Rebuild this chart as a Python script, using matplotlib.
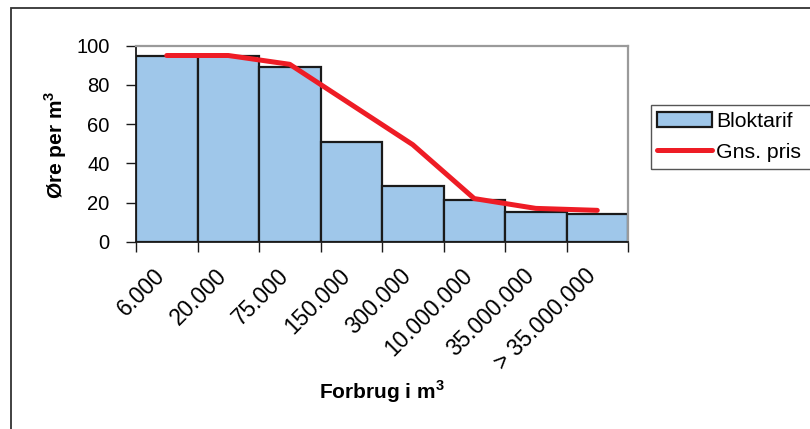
import matplotlib
matplotlib.use('Agg')
import matplotlib.pyplot as plt
import matplotlib.transforms as mtransforms
from matplotlib.patches import Rectangle

# values
categories = ['6.000', '20.000', '75.000', '150.000', '300.000',
              '10.000.000', '35.000.000', '> 35.000.000']
bloktarif = [95, 95, 89, 51, 28.4, 21.3, 15, 14]
gns_pris = [95, 95, 90.5, 70, 49.5, 22, 17, 16]

plt.rcParams['font.family'] = ['Liberation Sans', 'DejaVu Sans']
plt.rcParams['mathtext.fontset'] = 'custom'
plt.rcParams['mathtext.rm'] = 'Liberation Sans'
plt.rcParams['mathtext.bf'] = 'Liberation Sans:bold'

W, H = 810, 429
fig = plt.figure(figsize=(W / 100, H / 100), dpi=100)
ax = fig.add_axes([136 / W, 1 - 241.7 / H, 492 / W, 196 / H])

x = list(range(len(categories)))
bars = ax.bar(x, bloktarif, width=1.0, color='#9fc7ea', edgecolor='#1a1a1a',
              linewidth=1.6, label='Bloktarif', zorder=2)
line, = ax.plot(x, gns_pris, color='#ee1c25', linewidth=3.6,
                solid_capstyle='round', label='Gns. pris', zorder=3)
ax.set_xlim(-0.5, len(categories) - 0.5)
ax.set_ylim(0, 100)
ax.set_yticks(range(0, 101, 20))
ax.tick_params(axis='y', labelsize=14.5, length=7, width=1, pad=12, color='#1a1a1a')

# labels at category centres, tick marks between categories
ax.set_xticks(x)
ax.set_xticklabels(categories, rotation=45, ha='right', va='top',
                   rotation_mode='anchor', fontsize=16.3)
ax.tick_params(axis='x', which='major', length=0, pad=16)
shift = mtransforms.ScaledTranslation(-13 / 100, 0, fig.dpi_scale_trans)
for lbl in ax.get_xticklabels():
    lbl.set_transform(lbl.get_transform() + shift)
ax.set_xticks([i - 0.5 for i in range(len(categories) + 1)], minor=True)
ax.tick_params(axis='x', which='minor', length=7, width=1, color='#1a1a1a')

for s in ['top', 'right']:
    ax.spines[s].set_color('#9a9a9a')
    ax.spines[s].set_linewidth(1.6)
for s in ['left', 'bottom']:
    ax.spines[s].set_color('#1a1a1a')
    ax.spines[s].set_linewidth(1.3)
ax.spines['bottom'].set_zorder(4)

ax.set_ylabel(r'Øre per m$^{\mathbf{3}}$', fontsize=15, fontweight='bold')
ax.yaxis.set_label_coords(-0.136, 0.493)
ax.set_xlabel(r'Forbrug i m$^{\mathbf{3}}$', fontsize=15, fontweight='bold')
ax.xaxis.set_label_coords(0.5, -0.70)

leg = fig.legend([bars, line], ['Bloktarif', 'Gns. pris'], frameon=False,
                 loc='upper left', bbox_to_anchor=(657 / W, 1 - 112 / H),
                 borderpad=0, borderaxespad=0, handlelength=2.6,
                 handleheight=0.72, handletextpad=0.2, labelspacing=0.56,
                 fontsize=15.3)
fig.add_artist(Rectangle((651 / W, 1 - 169 / H), (816 - 651) / W, 64 / H,
                         transform=fig.transFigure, fill=False,
                         edgecolor='#555555', linewidth=1.0))

# outer chart frame (runs off the right and bottom edges)
fig.add_artist(Rectangle((10.5 / W, -0.1), 1.2, 1.1 - 8.5 / H,
                         transform=fig.transFigure, fill=False,
                         edgecolor='#333333', linewidth=1.3))

fig.savefig('out.png', dpi=100)
